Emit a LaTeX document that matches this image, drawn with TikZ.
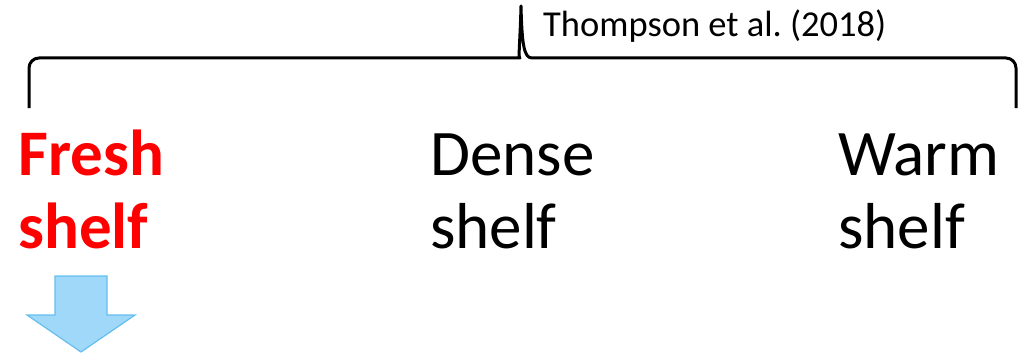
\documentclass[tikz,border=0pt]{standalone}
\usepackage{fontspec}
\setmainfont{Carlito}
\frenchspacing
\definecolor{freshred}{RGB}{255,0,0}
\definecolor{arrowfill}{RGB}{160,216,250}
\definecolor{arrowline}{RGB}{100,190,238}
\begin{document}
\begin{tikzpicture}[x=1pt,y=-1pt,
  label/.style={anchor=base west,inner sep=0pt,font=\fontsize{65}{73}\selectfont,align=left},
  cite/.style={anchor=base west,inner sep=0pt,font=\fontsize{36.5}{40}\selectfont},
  brace/.style={line width=3pt,line join=round}]
\useasboundingbox (0,0) rectangle (1020,353);
% grouping brace over the three shelf types
\coordinate (bl) at (29,108);
\coordinate (br) at (1016,108);
\coordinate (tip) at (521,6);
\draw[brace] (bl) [rounded corners=10pt] -- (29,58) -- (510,58) [sharp corners]
  .. controls (518,58) and (520,45) .. (tip)
  .. controls (522,45) and (524,58) .. (532,58) [rounded corners=10pt] -- (1016,58) -- (br);
\node[cite] (ref) at (543,37) {Thompson et al. (2018)};
% shelf labels (anchored on the baseline of the second line)
\node[label,text=freshred,font=\fontsize{65}{73}\selectfont\bfseries] (fresh) at (18,248) {Fresh\\shelf};
\node[label] (dense) at (430,248) {Dense\\shelf};
\node[label] (warm) at (838,248) {Warm\\shelf};
% downward block arrow under the fresh shelf
\draw[arrowline,fill=arrowfill,line width=1.2pt,line join=miter]
  (55,276) -- (107,276) -- (107,315) -- (135,315) -- (81,352) -- (27,315) -- (55,315) -- cycle;
\end{tikzpicture}
\end{document}
